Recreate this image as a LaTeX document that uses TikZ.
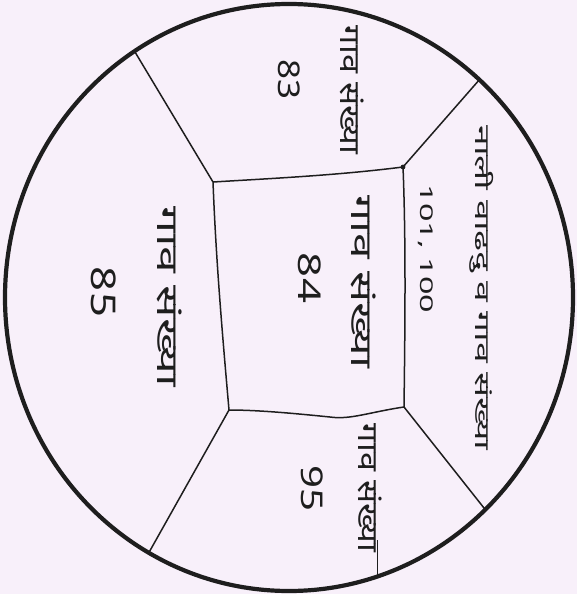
\documentclass[tikz,border=0pt]{standalone}
\usepackage{fontspec}
\newfontfamily\deva[Script=Devanagari]{Noto Sans}
\definecolor{paper}{RGB}{248,240,250}
\definecolor{ink}{RGB}{30,30,30}
\begin{document}
\begin{tikzpicture}[x=1pt,y=-1pt,
  edge/.style={draw=ink,line width=1.5pt,line join=round},
  lab/.style={rotate=-90,inner sep=0pt,text=ink,font=\deva}]
\fill[paper] (0,0) rectangle (577,594);
\useasboundingbox (0,0) rectangle (577,594);
% corners of the central plot
\coordinate (A) at (213,182);
\coordinate (B) at (403,167);
\coordinate (C) at (404,407);
\coordinate (D) at (229,410);
\coordinate (O) at (289,297.5);
% central plot
\draw[edge] (A) .. controls (280,178) and (340,175) .. (B)
  .. controls (406,240) and (405,330) .. (C)
  .. controls (370,412) and (350,420) .. (330,417)
  .. controls (300,414) and (260,410) .. (D)
  .. controls (222,330) and (216,260) .. cycle;
\fill[ink] (B) circle (2.4pt);
% radial boundaries, clipped by the circle
\begin{scope}
  \clip (O) ellipse [x radius=284pt, y radius=293.5pt];
  \coordinate (Aout) at (114,17);
  \coordinate (Bout) at (501,55);
  \coordinate (Cout) at (503,532);
  \coordinate (Dout) at (129,588);
  \coordinate (Hs) at (377.5,540);
  \coordinate (Hout) at (377.5,600);
  \draw[edge] (A) -- (Aout);
  \draw[edge] (B) -- (Bout);
  \draw[edge] (C) -- (Cout);
  \draw[edge] (D) -- (Dout);
  \draw[edge,line width=1.2pt] (Hs) -- (Hout);
\end{scope}
\draw[ink,line width=4.2pt] (O) ellipse [x radius=284pt, y radius=293.5pt];
% labels
\node[lab] (n83) at (289,80) {\resizebox*{40pt}{22pt}{83}};
\node[lab] (n84) at (310,278) {\resizebox*{50pt}{23pt}{84}};
\node[lab] (n85) at (104,292) {\resizebox*{50pt}{25pt}{85}};
\node[lab] (n95) at (312,488) {\resizebox*{46pt}{22pt}{95}};
\node[lab] (n101) at (426,249) {\resizebox*{128pt}{15pt}{101, 100}};
\node[lab] (gtop) at (352,90) {\resizebox*{128pt}{24pt}{गाव संख्या}};
\node[lab] (gmid) at (364,282) {\resizebox*{172pt}{25pt}{गाव संख्या}};
\node[lab] (gleft) at (170,297) {\resizebox*{180pt}{25pt}{गाव संख्या}};
\node[lab] (gbot) at (370,488) {\resizebox*{128pt}{24pt}{गाव संख्या}};
\node[lab] (gright) at (482,288) {\resizebox*{325pt}{24pt}{नाली वाढदु व गाव संख्या}};
\end{tikzpicture}
\end{document}
